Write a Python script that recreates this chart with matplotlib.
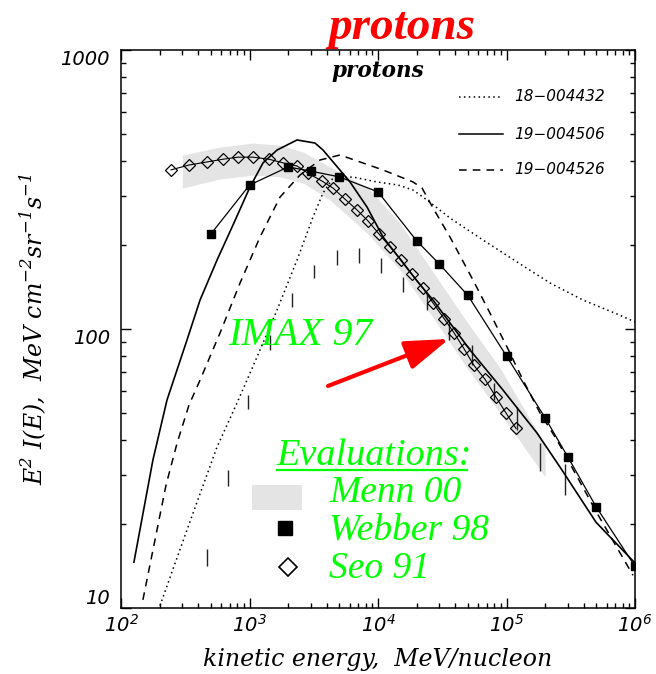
import numpy as np
import matplotlib
matplotlib.use('Agg')
import matplotlib.pyplot as plt
from matplotlib.ticker import FuncFormatter, LogLocator

# Data (energy in MeV/nucleon, E^2 I(E))
seo_e = [245, 338, 467, 622, 815, 1064, 1419, 1824, 2344, 2851, 3664, 4467, 5534, 6871, 8356,
         10190, 12390, 15100, 18410, 22390, 26790, 32660, 38990, 46670, 55850, 68080, 82790, 99080, 118600]
seo_f = [372, 387, 397, 406, 413, 413, 406, 394, 384, 362, 339, 320, 292, 267, 244,
         219, 197, 177, 157, 140, 124, 109, 97, 85, 74, 66, 57, 50, 44]

webber_e = [500, 1000, 2000, 3000, 5000, 1e4, 2e4, 3e4, 5e4, 1e5, 2e5, 3e5, 5e5, 1e6]
webber_f = [219, 328, 381, 368, 351, 310, 207, 171, 132, 80, 48, 34.8, 23.0, 14.1]

menn_e = [300, 590, 1060, 1730, 2610, 4230, 8210, 14800, 26800, 49300, 89000, 200000]
menn_hi = [420, 449, 464, 456, 431, 381, 323, 240, 160, 106, 72.5, 38.4]
menn_lo = [320, 345, 356, 351, 334, 290, 221, 163, 110, 72.5, 50, 29.5]

imax_e = [467, 680, 973, 1444, 2141, 3176, 4797, 7115, 10550, 15650, 24060, 35700, 53930,
          79950, 120700, 182300, 285300]
imax_lo = [14.2, 27.4, 51.7, 84.1, 119.9, 152.3, 169.6, 172.4, 158.8, 135.7, 117, 91.3, 74.3,
           55.7, 43.4, 31.0, 25.4]
imax_hi = [16.3, 31.2, 58.0, 95.2, 134.6, 169.6, 192, 195, 179.7, 153.6, 134.6, 106, 87.6,
           64.0, 52.5, 39.0, 32.8]

# model curves
m506_e = [126, 177, 228, 326, 412, 559, 744, 1009, 1274, 1637, 2343, 3233, 3733, 6053, 8210,
          10940, 14830, 20120, 26790, 52000, 93970, 172600, 260800, 497000, 1e6]
m506_f = [14.6, 33.9, 55.7, 91.3, 127, 176.8, 236, 323, 394, 438, 476, 464, 438, 336.5, 273.7,
          213.6, 178.2, 148.6, 127, 84.1, 60.4, 42.4, 32.0, 20.3, 14.5]

m526_e = [148, 177, 224, 273, 338, 412, 589, 844, 1207, 1728, 2472, 3537, 5061, 10940, 18730,
          22000, 26790, 36330, 54870, 74400, 100900, 134400, 182300, 247200, 506100, 964700]
m526_f = [10.7, 16.1, 27.6, 39.0, 53.4, 65.6, 96.7, 146.2, 213.6, 297.2, 356.5, 403.4, 420.5,
          371.5, 336.5, 320.2, 271.5, 213.6, 149.8, 114, 86.2, 65.6, 50, 40.0, 21.9, 13.1]

m432_e = [201, 332, 559, 799, 1144, 1637, 2343, 3120, 3733, 4465, 6391, 9822, 14300, 18730,
          24060, 36330, 65630, 120700, 218000, 393800, 724200, 1e6]
m432_f = [10.2, 19.5, 37.8, 54.3, 79.4, 117, 176.8, 252, 307.3, 347.7, 350.6, 336.5, 328.2,
          314.9, 290, 249.9, 208.4, 173.9, 146.2, 127, 113.2, 106]

model_names = ['18\u2212004432', '19\u2212004506', '19\u2212004526']
eval_names = ['Menn 00', 'Webber 98', 'Seo 91']
yticks = [10, 100, 1000]
yticklabels = ['10', '100', '1000']

green = '#00ff00'
band_col = '#e4e4e4'
serif = 'Liberation Serif'

fig = plt.figure(figsize=(6.56, 6.74), dpi=100)
ax = fig.add_axes([0.1845, 0.0979, 0.7835, 0.8279])
ax.set_xscale('log')
ax.set_yscale('log')
ax.set_xlim(1e2, 1e6)
ax.set_ylim(10, 1000)

# Menn 00 band
ax.fill_between(menn_e, menn_lo, menn_hi, color=band_col, lw=0, zorder=1)

# IMAX 97 bars
ax.vlines(imax_e, imax_lo, imax_hi, color='#222222', lw=1.0, zorder=2)

# models
ax.plot(m432_e, m432_f, color='k', lw=1.1, ls=(0, (1, 2.2)), zorder=3)
ax.plot(m506_e, m506_f, color='k', lw=1.2, ls='-', zorder=3)
ax.plot(m526_e, m526_f, color='k', lw=1.1, ls=(0, (5, 4)), zorder=3)

# Webber 98 and Seo 91
ax.plot(webber_e, webber_f, color='k', lw=0.9, marker='s', ms=6, mfc='k', mec='k', zorder=4)
ax.plot(seo_e, seo_f, color='k', lw=0.8, marker='D', ms=6, mfc='none', mec='k', mew=0.9, zorder=4)

# axis styling
for s in ax.spines.values():
    s.set_linewidth(1.1)
ax.xaxis.set_major_locator(LogLocator(base=10, numticks=10))
ax.xaxis.set_minor_locator(LogLocator(base=10, subs=np.arange(2, 10), numticks=10))
ax.yaxis.set_minor_locator(LogLocator(base=10, subs=np.arange(2, 10), numticks=10))
ax.xaxis.set_major_formatter(FuncFormatter(lambda v, p: r'$\mathdefault{10^{%d}}$' % round(np.log10(v))))
ax.set_yticks(yticks, labels=yticklabels)
ax.tick_params(which='both', direction='in', top=True, right=True, width=1.0)
ax.tick_params(which='major', length=7.5, labelsize=14, pad=4)
ax.tick_params(which='minor', length=3.8)
ax.tick_params(axis='y', which='major', pad=8)
for lab in ax.get_xticklabels() + ax.get_yticklabels():
    lab.set_fontstyle('italic')
    lab.set_family('DejaVu Sans')
# IDL-like placement: top label hangs below its tick, bottom label sits above
for lab, v in zip(ax.get_yticklabels(), yticks):
    lab.set_verticalalignment('bottom' if v == 10 else 'top')

ax.text(0.5, -0.093, 'kinetic energy,  MeV/nucleon', transform=ax.transAxes, ha='center', va='center',
        fontsize=17, family='DejaVu Serif', style='italic')
ax.text(-0.17, 0.5, r'E$^{\mathdefault{2}}$ I(E),  MeV cm$^{\mathdefault{-2}}$sr$^{\mathdefault{-1}}$s$^{\mathdefault{-1}}$',
        transform=ax.transAxes, rotation=90, ha='center', va='center',
        fontsize=17, family='DejaVu Serif', style='italic')

# titles
fig.text(0.613, 0.958, 'protons', color='red', fontsize=34, family=serif, style='italic',
         weight='bold', ha='center', va='center')
ax.text(0.5, 0.962, 'protons', transform=ax.transAxes, ha='center', va='center',
        fontsize=15.5, family='DejaVu Serif', style='italic', weight='bold')

# model legend (upper right)
leg_y = [0.916, 0.849, 0.785]
leg_ls = [(0, (1, 2.2)), '-', (0, (5, 4))]
for yy, ls, name in zip(leg_y, leg_ls, model_names):
    ax.plot([0.658, 0.743], [yy, yy], transform=ax.transAxes, color='k', lw=1.1, ls=ls)
    ax.text(0.765, yy, name, transform=ax.transAxes, ha='left', va='center',
            fontsize=11, family='DejaVu Sans', style='italic')

# annotations
ax.text(0.208, 0.471, 'IMAX 97', transform=ax.transAxes, color=green, fontsize=28.5,
        family=serif, style='italic', va='baseline')
ax.annotate('', xy=(35690, 92.1), xytext=(4083, 62.5),
            arrowprops=dict(arrowstyle='-|>,head_length=0.9,head_width=0.3', color='red',
                            lw=3, mutation_scale=30, shrinkA=0, shrinkB=0))

ax.text(0.303, 0.256, 'Evaluations:', transform=ax.transAxes, color=green, fontsize=27.5,
        family=serif, style='italic', va='baseline')
ax.plot([0.303, 0.673], [0.247, 0.247], transform=ax.transAxes, color=green, lw=1.6)
text_y = [0.190, 0.122, 0.054]
for yy, name in zip(text_y, eval_names):
    ax.text(0.405, yy, name, transform=ax.transAxes, color=green, fontsize=27,
            family=serif, style='italic', va='baseline')

ax.add_patch(plt.Rectangle((0.255, 0.176), 0.097, 0.044, transform=ax.transAxes,
                           color=band_col, lw=0))
ax.plot([0.319], [0.143], transform=ax.transAxes, marker='s', ms=10, color='k')
ax.plot([0.325], [0.073], transform=ax.transAxes, marker='D', ms=9, mfc='none', mec='k', mew=1.2)

fig.savefig('out.png', dpi=100)
